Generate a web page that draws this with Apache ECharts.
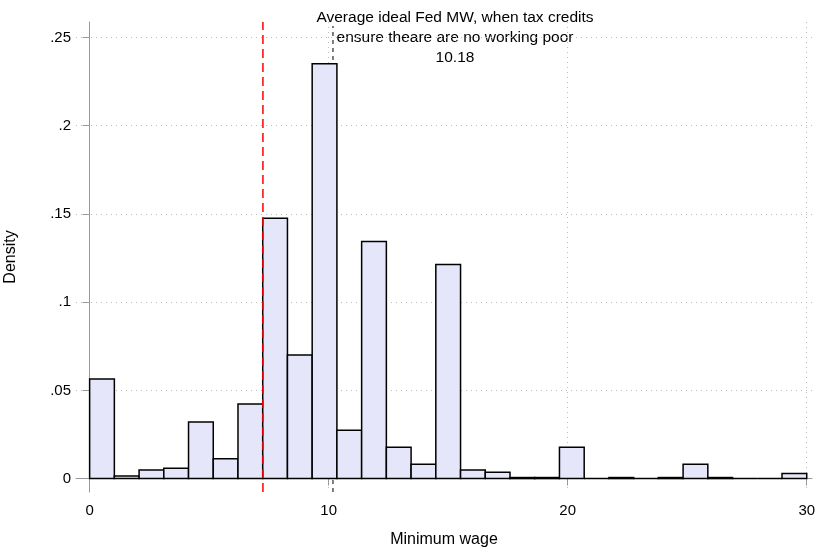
<!DOCTYPE html>
<html>
<head>
<meta charset="utf-8">
<script src="https://cdn.jsdelivr.net/npm/echarts@6/dist/echarts.min.js"></script>
<style>html,body{margin:0;padding:0;background:#fff}#Grf{width:817px;height:547px}</style>
</head>
<body>
<div id="Grf"></div>
<script>
// histogram: 29 bins over 0..30
const binMin = 0;
const binMax = 30;
const density = [0.0565, 0.0015, 0.0049, 0.0059, 0.0321, 0.0113, 0.0423, 0.1475, 0.0700, 0.2352,
  0.0274, 0.1344, 0.0178, 0.0081, 0.1214, 0.0049, 0.0036, 0.0006, 0.0006, 0.0178,
  0, 0.0006, 0, 0.0006, 0.0081, 0.0006, 0, 0, 0.0029];
const yTicks = [0, 0.05, 0.1, 0.15, 0.2, 0.25];
const yTickLabels = ['0', '.05', '.1', '.15', '.2', '.25'];
const xTicks = [0, 10, 20, 30];
const currentMW = 7.25;
const idealMW = 10.18;
const noteLines = ['Average ideal Fed MW, when tax credits', 'ensure theare are no working poor', '10.18'];

const binW = (binMax - binMin) / density.length;
const bins = density.map((d, i) => [binMin + i * binW, binMin + (i + 1) * binW, d]);

const vline = (x, color, dash, y0, y1) => ({
  type: 'custom', silent: true,
  data: [[x, y0, y1]],
  renderItem: (params, api) => {
    const a = api.coord([api.value(0), api.value(1)]);
    const b = api.coord([api.value(0), api.value(2)]);
    return {type: 'line', shape: {x1: a[0], y1: a[1], x2: b[0], y2: b[1]},
      style: {stroke: color, lineWidth: 1.5, lineDash: dash}};
  }
});

const grid = {left: 76, right: 5, top: 22, bottom: 55, containLabel: false, outerBoundsMode: 'none'};
const grafica = echarts.init(document.querySelector('#Grf'));
grafica.setOption({
  animation: false,
  textStyle: {fontFamily: 'Liberation Sans, Arial, sans-serif'},
  grid: grid,
  xAxis: {
    type: 'value', min: -0.57, max: 30.22,
    name: 'Minimum wage', nameLocation: 'middle', nameGap: 40,
    nameTextStyle: {fontSize: 16, color: '#000'},
    axisLine: {show: true, lineStyle: {color: '#999'}},
    axisTick: {show: true, length: 7, lineStyle: {color: '#999'}, customValues: xTicks},
    axisLabel: {fontSize: 15, color: '#000', margin: 11, customValues: xTicks},
    splitLine: {show: true, lineStyle: {color: '#bbb', type: [1, 4]}}
  },
  yAxis: {
    type: 'value', min: -0.0076, max: 0.2588,
    name: 'Density', nameLocation: 'middle', nameGap: 57,
    nameTextStyle: {fontSize: 16, color: '#000'},
    axisLine: {show: true, lineStyle: {color: '#999'}},
    axisTick: {show: true, length: 7, lineStyle: {color: '#999'}, customValues: yTicks},
    axisLabel: {fontSize: 15, color: '#000', margin: 5, customValues: yTicks,
      formatter: v => yTickLabels[yTicks.findIndex(t => Math.abs(t - v) < 1e-9)]},
    splitLine: {show: true, lineStyle: {color: '#bbb', type: [1, 4]}}
  },
  series: [
    vline(idealMW, '#555', [4, 4], -0.0076, 0.2565),
    {
      type: 'custom',
      data: bins,
      renderItem: (params, api) => {
        const p0 = api.coord([api.value(0), api.value(2)]);
        const p1 = api.coord([api.value(1), 0]);
        return {type: 'rect', shape: {x: p0[0], y: p0[1], width: p1[0] - p0[0], height: p1[1] - p0[1]},
          style: {fill: '#e6e6fa', stroke: '#000', lineWidth: 1.5}};
      }
    },
    vline(currentMW, '#ff0000', [9, 5], -0.0076, 0.2588)
  ],
  graphic: noteLines.map((t, i) => ({
    type: 'text', x: 455, y: 10 + i * 20,
    style: {text: t, fontSize: 15.5, fill: '#000', textAlign: 'center',
      fontFamily: 'Liberation Sans, Arial, sans-serif'}
  }))
});
window.addEventListener('resize', () => grafica.resize());
</script>
</body>
</html>
